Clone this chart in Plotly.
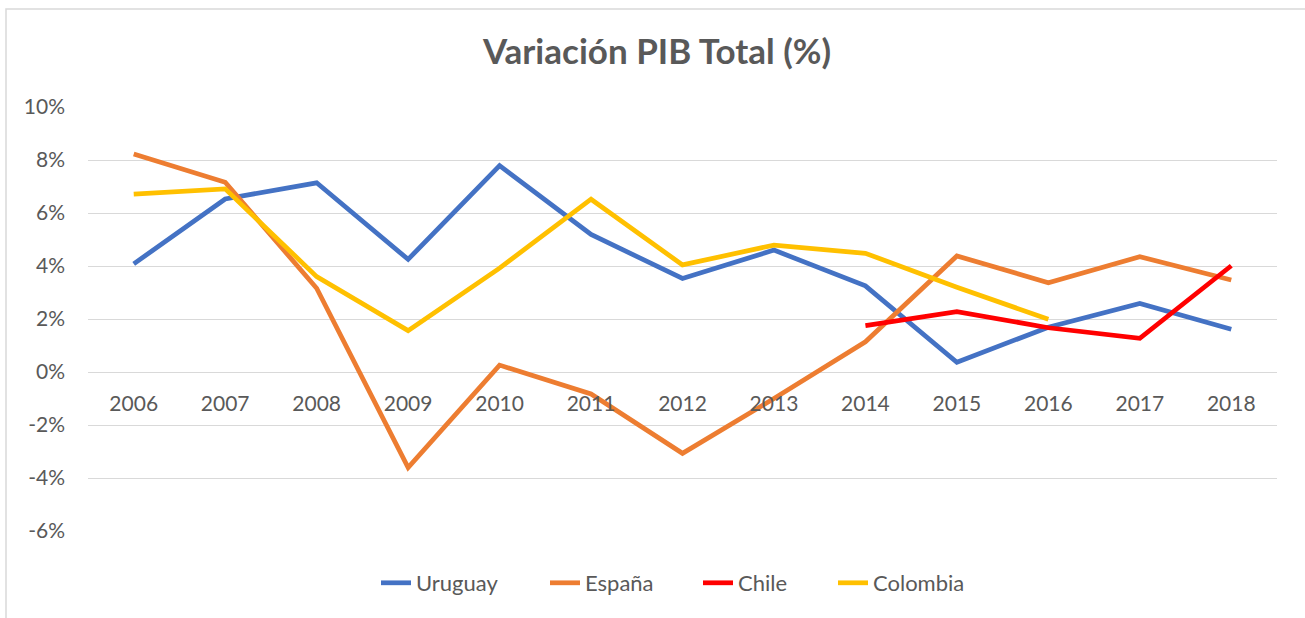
import plotly.graph_objects as go

years = ["2006", "2007", "2008", "2009", "2010", "2011", "2012",
         "2013", "2014", "2015", "2016", "2017", "2018"]
uruguay = [4.08, 6.53, 7.14, 4.25, 7.79, 5.19, 3.53, 4.6, 3.25, 0.37, 1.69, 2.59, 1.61]
espana = [8.23, 7.16, 3.16, -3.61, 0.26, -0.83, -3.07, -1.0, 1.14, 4.38, 3.37, 4.35, 3.47]
chile = [None, None, None, None, None, None, None, None, 1.75, 2.28, 1.67, 1.27, 4.01]
colombia = [6.71, 6.91, 3.6, 1.56, 3.92, 6.52, 4.04, 4.79, 4.48, 3.2, 1.99, None, None]
y_ticks = [-6, -4, -2, 0, 2, 4, 6, 8, 10]
y_tick_labels = [f"{v}%" for v in y_ticks]

series = [
    ("Uruguay", uruguay, "#4472C4"),
    ("España", espana, "#ED7D31"),
    ("Chile", chile, "#FF0000"),
    ("Colombia", colombia, "#FFC000"),
]
# left edge (page px) of each legend entry
legend_x_px = [376, 545, 698, 833]

FONT = "Lato"
GREY = "#595959"
W, H = 1305, 618
L, R, T, B = 88, 28, 107, 87
PW = W - L - R
PH = H - T - B

fig = go.Figure()
legend_layout = {}
for i, (name, vals, color) in enumerate(series):
    lg = "legend" if i == 0 else f"legend{i + 1}"
    fig.add_trace(go.Scatter(
        x=years, y=vals, name=name, mode="lines",
        line=dict(color=color, width=4.75),
        connectgaps=False, legend=lg,
    ))
    legend_layout[lg] = dict(
        orientation="h", xref="container", x=legend_x_px[i] / W, xanchor="left",
        yref="container", y=1 - 583 / H, yanchor="middle",
        font=dict(family=FONT, size=22, color=GREY),
        itemwidth=30, bgcolor="rgba(0,0,0,0)",
    )

fig.update_layout(
    width=W, height=H,
    margin=dict(l=L, r=R, t=T, b=B, autoexpand=False),
    paper_bgcolor="white", plot_bgcolor="white",
    font=dict(family=FONT, color=GREY, size=21),
    title=dict(text="<b>Variación PIB Total (%)</b>", x=(657 - L) / PW, xref="paper",
               y=1 - 52 / H, yref="container", xanchor="center", yanchor="middle",
               font=dict(family=FONT, size=35, color=GREY)),
    showlegend=True,
    xaxis=dict(type="category", range=[-0.5, 12.5], showgrid=False, zeroline=False,
               showline=False, ticks="", anchor="free", position=0.375,
               ticklabelstandoff=17, tickfont=dict(family=FONT, size=21, color=GREY)),
    yaxis=dict(range=[-6, 10], tickvals=y_ticks, ticktext=y_tick_labels,
               showgrid=True, gridcolor="#D9D9D9", gridwidth=1.3, zeroline=False,
               showline=False, ticks="", ticklabelstandoff=22,
               tickfont=dict(family=FONT, size=21, color=GREY)),
    **legend_layout,
)

fig.add_shape(type="rect", xref="paper", yref="paper",
              x0=(6 - L) / PW, x1=1.2, y0=-0.5, y1=(H - B - 9) / PH,
              line=dict(color="#D9D9D9", width=1.5), fillcolor="rgba(0,0,0,0)", layer="below")

fig.write_html("out.html", config={"displayModeBar": False},
               post_script="document.body.style.margin='0';document.body.style.overflow='hidden';")
